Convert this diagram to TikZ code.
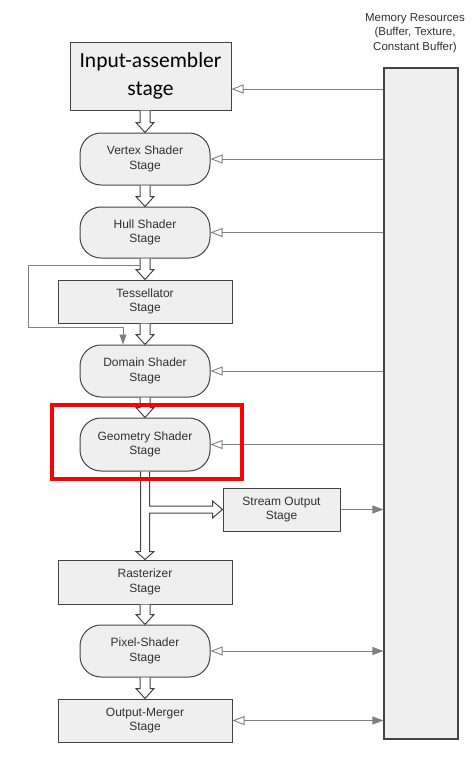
\documentclass[tikz,border=0pt]{standalone}
\usepackage{fontspec}
\setmainfont{Liberation Sans}
\newfontfamily\iafont{Carlito}
\usetikzlibrary{positioning, arrows.meta, calc}
\definecolor{boxfill}{HTML}{EFEFEF}
\definecolor{boxline}{HTML}{444444}
\definecolor{linegray}{HTML}{808080}
\definecolor{txtgray}{HTML}{303030}
\newcommand{\stagefont}{\fontsize{12}{14.5}\selectfont}
\newcommand{\memfont}{\fontsize{11.5}{14.5}\selectfont}
\tikzstyle{rstage}=[draw=boxline, fill=boxfill, line width=1pt, minimum width=174pt, minimum height=43pt, inner sep=0pt, align=center, font=\stagefont, text=txtgray]
\tikzstyle{rndstage}=[rstage, rounded corners=21pt, minimum width=130pt, minimum height=52pt]
\tikzstyle{blk}=[draw=boxline, fill=white, line width=1pt, line join=miter]
\tikzstyle{memin}=[draw=linegray, line width=0.9pt, -{Triangle[open, length=12pt, width=9pt]}]
\tikzstyle{memout}=[draw=linegray, line width=0.9pt, -{Triangle[length=11pt, width=8pt]}]
\tikzstyle{memboth}=[draw=linegray, line width=0.9pt, {Triangle[open, length=12pt, width=9pt]}-{Triangle[length=11pt, width=8pt]}]
\tikzstyle{loopline}=[draw=linegray, line width=0.9pt, -{Triangle[length=10pt, width=7pt]}]
\tikzstyle{hilite}=[draw=red, line width=4pt]
% hollow block arrow from one stage down to the next
\newcommand{\blkarrow}[2]{%
  \draw[blk] ($(#1.south -| #2.north)+(-5,0)$) -- ($(#2.north)+(-5,-10)$) -- ($(#2.north)+(-9,-10)$)
    -- (#2.north) -- ($(#2.north)+(9,-10)$) -- ($(#2.north)+(5,-10)$) -- ($(#1.south -| #2.north)+(5,0)$);}

\begin{document}
\begin{tikzpicture}[x=1pt, y=-1pt]
  \useasboundingbox (0,0) rectangle (476,758);
  % pipeline stages
  \node [rstage, minimum width=161pt, minimum height=68pt, font=\iafont\fontsize{21.5}{28}\selectfont, text=black] (inp) at (150.5,76) {Input-assembler\\stage};
  \node [rndstage] (vs) [below of=inp, node distance=83pt, xshift=-5.5pt] {Vertex Shader\\Stage};
  \node [rndstage, minimum height=51pt] (hs) [below of=vs, node distance=73.5pt] {Hull Shader\\Stage};
  \node [rstage] (tess) [below of=hs, node distance=69pt] {Tessellator\\Stage};
  \node [rndstage] (ds) [below of=tess, node distance=69.5pt] {Domain Shader\\Stage};
  \node [rndstage, minimum height=53pt] (gs) [below of=ds, node distance=73.5pt] {Geometry Shader\\Stage};
  \node [rstage, minimum height=44pt] (ras) [below of=gs, node distance=137.5pt] {Rasterizer\\Stage};
  \node [rndstage] (ps) [below of=ras, node distance=69pt] {Pixel-Shader\\Stage};
  \node [rstage] (om) [below of=ps, node distance=69.5pt] {Output-Merger\\Stage};
  \node [rstage, minimum width=117pt] (so) at (281.5,509.5) {Stream Output\\Stage};
  % memory resources
  \node [draw=boxline, fill=boxfill, line width=1.1pt, minimum width=74pt, minimum height=671pt] (mem) at (421,403.5) {};
  \node [font=\memfont, text=txtgray, align=center] (memtxt) at (415,33) {Memory Resources\\(Buffer, Texture,\\Constant Buffer)};
  % block arrows
  \blkarrow{inp}{vs}
  \blkarrow{vs}{hs}
  \blkarrow{hs}{tess}
  \blkarrow{tess}{ds}
  \blkarrow{ds}{gs}
  \blkarrow{ras}{ps}
  \blkarrow{ps}{om}
  \draw[blk] ($(gs.south)+(-4.5,0)$) -- ($(ras.north)+(-4.5,-8)$) -- ($(ras.north)+(-9,-8)$) -- (ras.north)
    -- ($(ras.north)+(9,-8)$) -- ($(ras.north)+(4.5,-8)$) -- ($(so.west -| gs.south)+(4.5,3.5)$)
    -- ($(so.west)+(-10,3.5)$) -- ($(so.west)+(-10,8.5)$) -- (so.west) -- ($(so.west)+(-10,-8.5)$)
    -- ($(so.west)+(-10,-3.5)$) -- ($(so.west -| gs.south)+(4.5,-3.5)$) -- ($(gs.south)+(4.5,0)$);
  % tessellator bypass
  \coordinate (loopcorner) at (28,327);
  \draw[loopline] ($(hs.south)+(-5,7)$) -| (loopcorner) -| ($(ds.north)+(-22,0)$);
  % memory connections
  \draw[memin] ($(mem.west |- inp.east)+(0,13)$) -- ($(inp.east)+(0,13)$);
  \foreach \s in {vs, hs, ds, gs}
    \draw[memin] (mem.west |- \s.east) -- (\s.east);
  \draw[memout] (so.east) -- (mem.west |- so.east);
  \foreach \s in {ps, om}
    \draw[memboth] (\s.east) -- (mem.west |- \s.east);
  % highlight
  \draw[hilite] ($(gs.north west)+(-28,-13)$) rectangle ($(gs.south east)+(31,7)$);
\end{tikzpicture}
\end{document}
